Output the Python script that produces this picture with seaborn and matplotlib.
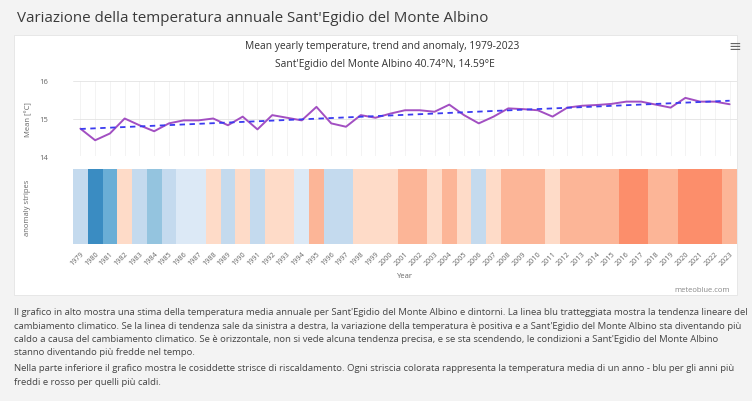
"""
Yearly mean temperature, trend and warming stripes -- Sant'Egidio del Monte Albino
"""
import numpy as np
import pandas as pd
import matplotlib
matplotlib.use("Agg")
import matplotlib.pyplot as plt
from matplotlib.colors import ListedColormap, BoundaryNorm
from matplotlib.patches import Rectangle
import seaborn as sns


# ================================================================================
# Data
# ================================================================================
years = list(range(1979, 2024))
temps = [
    14.73, 14.42, 14.60, 15.00, 14.82, 14.66, 14.87, 14.95, 14.95, 15.00,   # 1979-1988
    14.82, 15.05, 14.71, 15.09, 15.02, 14.95, 15.31, 14.87, 14.78, 15.09,   # 1989-1998
    15.02, 15.13, 15.22, 15.22, 15.18, 15.37, 15.09, 14.87, 15.05, 15.27,   # 1999-2008
    15.25, 15.22, 15.05, 15.29, 15.34, 15.36, 15.39, 15.45, 15.45, 15.37,   # 2009-2018
    15.29, 15.55, 15.45, 15.45, 15.38,                                      # 2019-2023
]
baseline = 15.0
y_ticks  = [14, 15, 16]

# Anomaly classes for the stripes (degrees from baseline) and their colours
stripe_bounds = [-0.8, -0.5, -0.4, -0.3, -0.1, 0.0, 0.2, 0.4, 0.6, 0.8]
stripe_colors = ["#3a8cc2", "#6aaed6", "#94c4df", "#c4daee", "#dce9f6",
                 "#fedbc8", "#fcb597", "#fc8e6b", "#f6583e"]

title     = "Variazione della temperatura annuale Sant'Egidio del Monte Albino"
subtitle1 = "Mean yearly temperature, trend and anomaly, 1979-2023"
subtitle2 = "Sant'Egidio del Monte Albino 40.74°N, 14.59°E"

para1 = [
    "Il grafico in alto mostra una stima della temperatura media annuale per Sant'Egidio del Monte Albino e dintorni. La linea blu tratteggiata mostra la tendenza lineare del",
    "cambiamento climatico. Se la linea di tendenza sale da sinistra a destra, la variazione della temperatura è positiva e a Sant'Egidio del Monte Albino sta diventando più",
    "caldo a causa del cambiamento climatico. Se è orizzontale, non si vede alcuna tendenza precisa, e se sta scendendo, le condizioni a Sant'Egidio del Monte Albino",
    "stanno diventando più fredde nel tempo.",
]
para2 = [
    "Nella parte inferiore il grafico mostra le cosiddette strisce di riscaldamento. Ogni striscia colorata rappresenta la temperatura media di un anno - blu per gli anni più",
    "freddi e rosso per quelli più caldi.",
]

df = pd.DataFrame({"Year": years, "Temp": temps})
slope, icept = np.polyfit(df["Year"], df["Temp"], 1)
df["Trend"] = icept + slope * df["Year"]
anomaly = pd.DataFrame([np.array(temps) - baseline], columns=years)


# ================================================================================
# Figure
# ================================================================================
sns.set_style("white")
plt.rcParams["font.family"] = ["Open Sans", "DejaVu Sans"]

W, H = 752, 402
fig = plt.figure(figsize=(W / 100, H / 100), dpi=100)
fig.patch.set_facecolor("#f3f3f3")

def px(x, y):
    return x / W, 1 - y / H

# White chart card (behind the axes)
fig.patches.append(Rectangle(px(14, 296), 723 / W, 260 / H, transform=fig.transFigure,
                             facecolor="white", edgecolor="#e4e4e4", lw=0.6, zorder=-5))

fig.text(*px(17, 18), title, fontsize=10.9, color="#3a3a3a", va="center", ha="left")
fig.text(*px(382, 47), subtitle1, fontsize=7.4, color="#333333", va="center", ha="center")
fig.text(*px(385, 65), subtitle2, fontsize=7.4, color="#333333", va="center", ha="center")
fig.text(*px(735, 47), "≡", fontsize=11, color="#666666", va="center", ha="center",
         family=["DejaVu Sans"])

left, right = 73, 737

# Upper panel: yearly temperature + trend
ax1 = fig.add_axes([left / W, 1 - 157 / H, (right - left) / W, 75 / H])
sns.lineplot(data=df, x="Year", y="Temp", ax=ax1, color="#a24fc2", lw=1.4)
sns.lineplot(data=df, x="Year", y="Trend", ax=ax1, color="#3b3bf0", lw=1.3,
             linestyle=(0, (3, 2.5)))
ax1.set_xlim(1978.5, 2023.5)
ax1.set_ylim(14, 16)
ax1.set_yticks(y_ticks)
ax1.set_yticklabels([str(t) for t in y_ticks], fontsize=5.5, color="#666666")
ax1.set_xticks(years)
ax1.set_xticklabels([])
ax1.tick_params(length=0, pad=18)
ax1.grid(axis="y", color="#e3e3e3", lw=0.6)
ax1.grid(axis="x", color="#f1f1f1", lw=0.6)
ax1.set_xlabel("")
ax1.set_ylabel("Mean [°C]", fontsize=5.5, color="#666666", labelpad=5)
for s in ax1.spines.values():
    s.set_visible(False)
ax1.set_facecolor("none")

# Lower panel: warming stripes
ax2 = fig.add_axes([left / W, 1 - 245 / H, (right - left) / W, 75 / H])
cmap = ListedColormap(stripe_colors)
norm = BoundaryNorm(stripe_bounds, cmap.N)
sns.heatmap(anomaly, ax=ax2, cmap=cmap, norm=norm, cbar=False,
            xticklabels=years, yticklabels=False)
ax2.set_xticklabels(years, rotation=45, ha="right", rotation_mode="anchor",
                    fontsize=5.2, color="#666666")
ax2.tick_params(axis="x", length=0, pad=4)
ax2.set_xlabel("Year", fontsize=5.5, color="#666666", labelpad=4)
ax2.set_ylabel("anomaly stripes", fontsize=5.5, color="#666666", labelpad=30)

fig.text(*px(730, 291), "meteoblue.com", fontsize=5.5, color="#888888", va="center", ha="right")

# Description text below the chart
for i, line in enumerate(para1):
    fig.text(*px(14, 313 + 13.2 * i), line, fontsize=6.8, color="#444444", va="center", ha="left")
for i, line in enumerate(para2):
    fig.text(*px(14, 369 + 13.2 * i), line, fontsize=6.8, color="#444444", va="center", ha="left")

fig.savefig("out.png", dpi=100, facecolor=fig.get_facecolor())
